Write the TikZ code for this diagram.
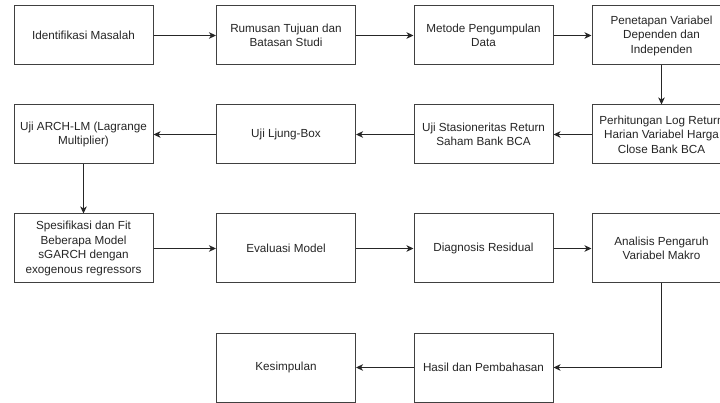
\documentclass[tikz,border=0pt]{standalone}
\usepackage{fontspec}
\setmainfont{Liberation Sans}
\usetikzlibrary{positioning, arrows.meta}

\begin{document}
\begin{tikzpicture}[
        x=1pt, y=-1pt,
        font=\fontsize{11.7}{14.5}\selectfont,
        step_box/.style={rectangle, draw=black!75, fill=white, text=black!85,
          align=center, minimum width=139pt, minimum height=59pt,
          inner sep=0pt, line width=1pt},
        tall_box/.style={step_box, minimum height=69pt},
        line/.style={draw, -{Stealth[length=7pt, width=6.5pt, inset=2pt]},
          line width=1pt, black!85}
      ]
      % Page area (right column is cut off at the edge)
      \clip (0,0) rectangle (720,403);
      \fill[white] (0,0) rectangle (720,403);

      % Row 1
      \node [step_box] (r_ident) at (83.5, 35.5) {Identifikasi Masalah};
      \node [step_box] (r_rumusan) at (286, 35.5) {Rumusan Tujuan dan\\Batasan Studi};
      \node [step_box] (r_metode) at (483.5, 35.5) {Metode Pengumpulan\\Data};
      \node [step_box] (r_penetapan) at (661.5, 35.5) {Penetapan Variabel\\Dependen dan\\Independen};

      % Row 2
      \node [step_box] (r_logret) at (661.5, 134.5) {Perhitungan Log Return\\Harian Variabel Harga\\Close Bank BCA};
      \node [step_box] (r_stasioner) at (483.5, 134.5) {Uji Stasioneritas Return\\Saham Bank BCA};
      \node [step_box] (r_ljung) at (286, 134.5) {Uji Ljung-Box};
      \node [step_box] (r_arch) at (83.5, 134.5) {Uji ARCH-LM (Lagrange\\Multiplier)};

      % Row 3
      \node [tall_box] (r_spesifikasi) at (83.5, 248.5) {Spesifikasi dan Fit\\Beberapa Model\\sGARCH dengan\\exogenous regressors};
      \node [tall_box] (r_evaluasi) at (286, 248.5) {Evaluasi Model};
      \node [tall_box] (r_diagnosis) at (483.5, 248.5) {Diagnosis Residual};
      \node [tall_box] (r_analisis) at (661.5, 248.5) {Analisis Pengaruh\\Variabel Makro};

      % Row 4
      \node [tall_box] (r_hasil) at (483.5, 367.5) {Hasil dan Pembahasan};
      \node [tall_box] (r_kesimpulan) at (286, 367.5) {Kesimpulan};

      % Connectors
      \path [line] (r_ident) -- (r_rumusan);
      \path [line] (r_rumusan) -- (r_metode);
      \path [line] (r_metode) -- (r_penetapan);
      \path [line] (r_penetapan) -- (r_logret);
      \path [line] (r_logret) -- (r_stasioner);
      \path [line] (r_stasioner) -- (r_ljung);
      \path [line] (r_ljung) -- (r_arch);
      \path [line] (r_arch) -- (r_spesifikasi);
      \path [line] (r_spesifikasi) -- (r_evaluasi);
      \path [line] (r_evaluasi) -- (r_diagnosis);
      \path [line] (r_diagnosis) -- (r_analisis);
      \path [line] (r_analisis.south) |- (r_hasil.east);
      \path [line] (r_hasil) -- (r_kesimpulan);

    \end{tikzpicture}
\end{document}
